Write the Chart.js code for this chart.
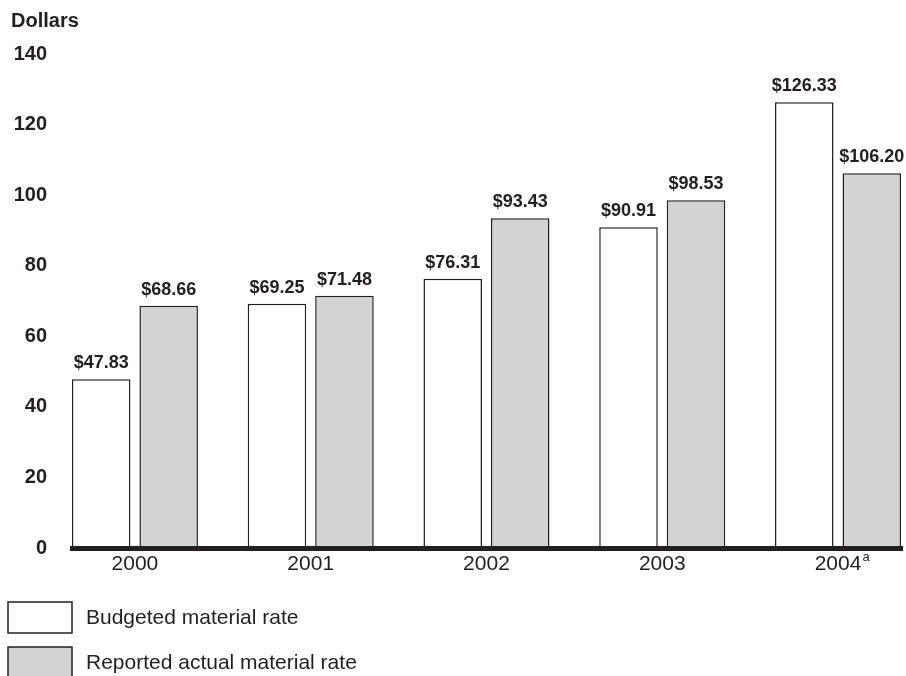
<!DOCTYPE html>
<html>
<head>
<meta charset="utf-8">
<script src="https://cdn.jsdelivr.net/npm/chart.js@4.4.0/dist/chart.umd.min.js"></script>
<style>
  html, body { margin: 0; padding: 0; background: #ffffff; }
  #wrap { width: 906px; height: 676px; position: relative; }
</style>
</head>
<body>
<div id="wrap"><canvas id="c"></canvas></div>
<script>
// ---- data ----
const categories = ['2000', '2001', '2002', '2003', '2004'];
const footnoteMarks = ['', '', '', '', 'a'];
const budgetedRate = [47.83, 69.25, 76.31, 90.91, 126.33];
const actualRate = [68.66, 71.48, 93.43, 98.53, 106.20];
const seriesNames = ['Budgeted material rate', 'Reported actual material rate'];
const yTicks = [0, 20, 40, 60, 80, 100, 120, 140];
const yTitle = 'Dollars';

const INK = '#231f20';
const FONT = "'Liberation Sans', Arial, Helvetica, sans-serif";

const valueLabels = {
  id: 'valueLabels',
  afterDatasetsDraw(chart) {
    const ctx = chart.ctx;
    ctx.save();
    ctx.font = 'bold 18px ' + FONT;
    ctx.fillStyle = INK;
    ctx.textAlign = 'center';
    ctx.textBaseline = 'alphabetic';
    chart.data.datasets.forEach((ds, di) => {
      const meta = chart.getDatasetMeta(di);
      meta.data.forEach((bar, i) => {
        const v = ds.data[i].y;
        ctx.fillText('$' + v.toFixed(2), bar.x, bar.y - 11);
      });
    });
    ctx.restore();
  }
};

const footnotes = {
  id: 'footnotes',
  afterDraw(chart) {
    const ctx = chart.ctx;
    const xs = chart.scales.x;
    ctx.save();
    ctx.fillStyle = INK;
    footnoteMarks.forEach((m, i) => {
      if (!m) return;
      ctx.font = '21px ' + FONT;
      const w = ctx.measureText(categories[i]).width;
      const px = xs.getPixelForValue(i);
      ctx.font = '13px ' + FONT;
      ctx.textAlign = 'left';
      ctx.textBaseline = 'top';
      ctx.fillText(m, px + w / 2 + 1, xs.top + 3);
    });
    ctx.restore();
  }
};

const customLegend = {
  id: 'customLegend',
  afterDraw(chart) {
    const ctx = chart.ctx;
    ctx.save();
    const tops = [602, 647];
    chart.data.datasets.forEach((ds, i) => {
      const y = tops[i];
      ctx.fillStyle = ds.backgroundColor;
      ctx.fillRect(8, y, 64, 31);
      ctx.strokeStyle = INK;
      ctx.lineWidth = 1.5;
      ctx.strokeRect(8, y, 64, 31);
      ctx.fillStyle = INK;
      ctx.font = '21px ' + FONT;
      ctx.textAlign = 'left';
      ctx.textBaseline = 'middle';
      ctx.fillText(ds.label, 86, y + 16);
    });
    ctx.restore();
  }
};

const mkData = arr => arr.map((v, i) => ({ x: i, y: v }));

new Chart(document.getElementById('c'), {
  type: 'bar',
  data: {
    datasets: [
      {
        label: seriesNames[0],
        data: mkData(budgetedRate),
        backgroundColor: '#ffffff',
        borderColor: INK,
        borderWidth: 1.5
      },
      {
        label: seriesNames[1],
        data: mkData(actualRate),
        backgroundColor: '#d1d3d4',
        borderColor: INK,
        borderWidth: 1.5
      }
    ]
  },
  options: {
    responsive: true,
    maintainAspectRatio: false,
    animation: false,
    devicePixelRatio: 1,
    layout: { padding: { left: 11, right: 4, top: 0, bottom: 100 } },
    datasets: { bar: { categoryPercentage: 0.768, barPercentage: 0.867 } },
    plugins: {
      legend: { display: false },
      tooltip: { enabled: false },
      title: {
        display: true,
        text: yTitle,
        align: 'start',
        color: INK,
        font: { family: FONT, size: 20, weight: 'bold' },
        padding: { top: 9, bottom: 21 }
      }
    },
    scales: {
      x: {
        type: 'linear',
        offset: false,
        min: -0.358,
        max: 4.364,
        afterBuildTicks(scale) {
          scale.ticks = categories.map((_, i) => ({ value: i }));
        },
        afterFit(scale) { scale.height = 28; },
        grid: { display: false, drawTicks: false, offset: false },
        border: { display: true, color: INK, width: 5, z: 1 },
        ticks: {
          color: INK,
          padding: 4,
          maxRotation: 0,
          autoSkip: false,
          font: { family: FONT, size: 21 },
          callback: v => categories[v]
        }
      },
      y: {
        min: 0,
        max: 140,
        afterBuildTicks(scale) {
          scale.ticks = yTicks.map(v => ({ value: v }));
        },
        afterFit(scale) { scale.width = 61; },
        grid: { display: false, drawTicks: false },
        border: { display: false },
        ticks: {
          color: INK,
          padding: 25,
          font: { family: FONT, size: 20, weight: 'bold' }
        }
      }
    }
  },
  plugins: [valueLabels, footnotes, customLegend]
});
</script>
</body>
</html>
